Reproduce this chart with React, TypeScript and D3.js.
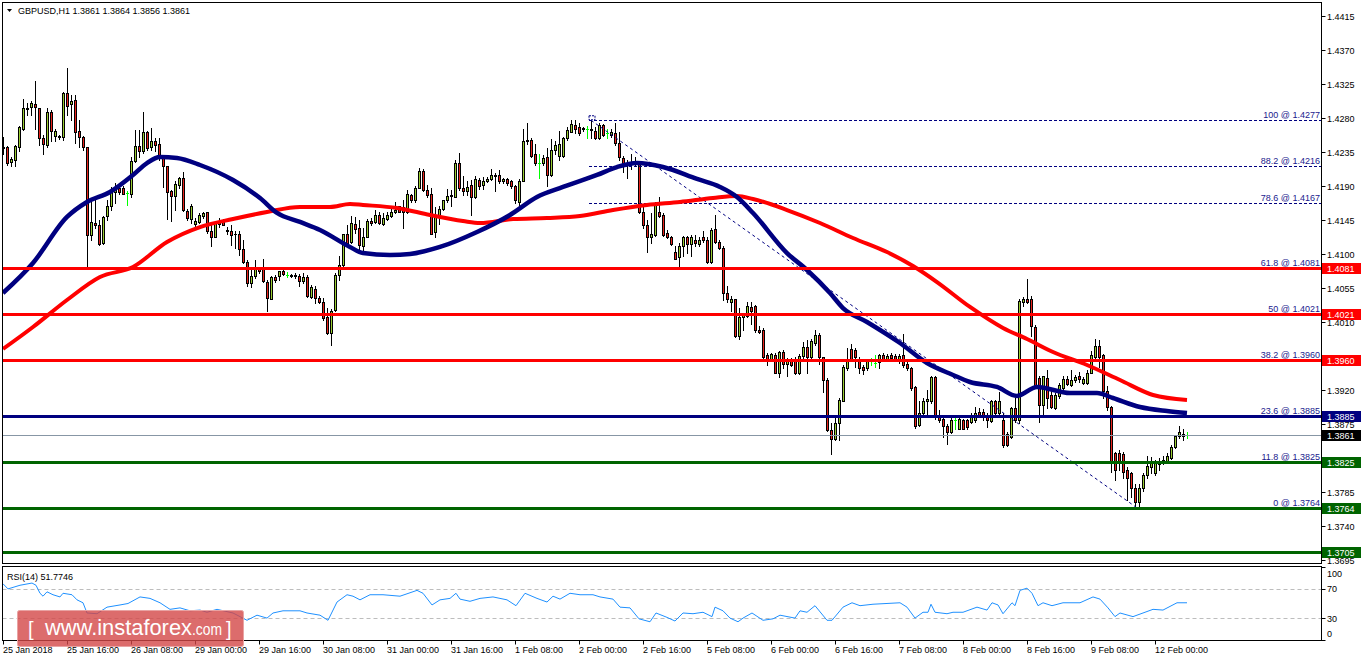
import React from 'react';
import * as d3 from 'd3';

// ---------- DATA (GBPUSD H1, bars 0..296, 25 Jan 2018 00:00 -> 12 Feb 2018 08:00) ----------
const opens = [
  1.4240,1.4241,1.4222,1.4224,1.4241,1.4266,1.4292,1.4294,1.4298,1.4293,
  1.4254,1.4244,1.4288,1.4256,1.4256,1.4255,1.4313,1.4298,1.4304,1.4263,
  1.4255,1.4241,1.4125,1.4141,1.4138,1.4114,1.4150,1.4163,1.4182,1.4188,
  1.4188,1.4181,1.4180,1.4223,1.4243,1.4236,1.4261,1.4241,1.4250,1.4245,
  1.4229,1.4216,1.4183,1.4177,1.4191,1.4200,1.4157,1.4146,1.4140,1.4143,
  1.4150,1.4155,1.4131,1.4123,1.4140,1.4143,1.4132,1.4131,1.4127,1.4127,
  1.4107,1.4090,1.4062,1.4071,1.4080,1.4080,1.4063,1.4041,1.4069,1.4071,
  1.4077,1.4072,1.4072,1.4071,1.4071,1.4064,1.4070,1.4043,1.4054,1.4042,
  1.4037,1.4017,1.3995,1.4026,1.4072,1.4086,1.4127,1.4116,1.4140,1.4135,
  1.4111,1.4123,1.4144,1.4143,1.4152,1.4140,1.4146,1.4150,1.4155,1.4163,
  1.4162,1.4155,1.4178,1.4171,1.4188,1.4210,1.4185,1.4179,1.4129,1.4150,
  1.4159,1.4171,1.4177,1.4176,1.4221,1.4188,1.4184,1.4191,1.4175,1.4198,
  1.4191,1.4196,1.4199,1.4205,1.4205,1.4196,1.4199,1.4197,1.4190,1.4169,
  1.4197,1.4251,1.4251,1.4232,1.4221,1.4220,1.4228,1.4205,1.4237,1.4230,
  1.4230,1.4254,1.4262,1.4271,1.4268,1.4266,1.4266,1.4266,1.4263,1.4253,
  1.4271,1.4260,1.4257,1.4260,1.4247,1.4227,1.4220,1.4222,1.4221,1.4219,
  1.4156,1.4138,1.4122,1.4125,1.4155,1.4152,1.4128,1.4122,1.4103,1.4096,
  1.4110,1.4122,1.4113,1.4119,1.4113,1.4123,1.4118,1.4089,1.4133,1.4116,
  1.4108,1.4049,1.4036,1.4040,1.3991,1.4016,1.4018,1.4030,1.4031,1.3999,
  1.3999,1.3966,1.3960,1.3966,1.3943,1.3970,1.3955,1.3960,1.3960,1.3942,
  1.3965,1.3977,1.3964,1.3982,1.3993,1.3964,1.3933,1.3867,1.3855,1.3876,
  1.3906,1.3949,1.3974,1.3973,1.3960,1.3951,1.3949,1.3958,1.3956,1.3957,
  1.3966,1.3960,1.3966,1.3965,1.3958,1.3966,1.3955,1.3949,1.3924,1.3874,
  1.3889,1.3905,1.3905,1.3937,1.3886,1.3881,1.3872,1.3865,1.3880,1.3869,
  1.3880,1.3880,1.3878,1.3880,1.3891,1.3891,1.3887,1.3879,1.3905,1.3889,
  1.3880,1.3862,1.3858,1.3896,1.3880,1.4036,1.4041,1.4041,1.4004,1.3936,
  1.3900,1.3936,1.3914,1.3896,1.3912,1.3922,1.3934,1.3927,1.3933,1.3938,
  1.3929,1.3929,1.3943,1.3964,1.3978,1.3966,1.3919,1.3897,1.3837,1.3837,
  1.3835,1.3814,1.3810,1.3790,1.3772,1.3790,1.3808,1.3818,1.3810,1.3822,
  1.3823,1.3825,1.3830,1.3845,1.3859,1.3862,1.3861,
];
const highs = [
  1.4255,1.4243,1.4229,1.4244,1.4270,1.4305,1.4300,1.4303,1.4329,1.4293,
  1.4258,1.4293,1.4291,1.4265,1.4258,1.4315,1.4346,1.4311,1.4311,1.4277,
  1.4256,1.4242,1.4172,1.4172,1.4145,1.4150,1.4172,1.4189,1.4194,1.4191,
  1.4190,1.4183,1.4229,1.4264,1.4264,1.4288,1.4263,1.4267,1.4253,1.4254,
  1.4231,1.4216,1.4185,1.4196,1.4202,1.4208,1.4160,1.4166,1.4147,1.4154,
  1.4156,1.4156,1.4141,1.4143,1.4147,1.4146,1.4136,1.4138,1.4130,1.4130,
  1.4119,1.4092,1.4083,1.4092,1.4083,1.4093,1.4066,1.4071,1.4072,1.4078,
  1.4079,1.4076,1.4074,1.4075,1.4074,1.4075,1.4072,1.4059,1.4057,1.4044,
  1.4042,1.4028,1.4027,1.4075,1.4097,1.4127,1.4139,1.4150,1.4149,1.4145,
  1.4134,1.4146,1.4147,1.4158,1.4155,1.4154,1.4155,1.4160,1.4169,1.4164,
  1.4171,1.4185,1.4180,1.4190,1.4214,1.4213,1.4191,1.4187,1.4162,1.4163,
  1.4172,1.4186,1.4185,1.4224,1.4234,1.4203,1.4196,1.4198,1.4203,1.4200,
  1.4202,1.4202,1.4212,1.4207,1.4211,1.4201,1.4201,1.4198,1.4191,1.4199,
  1.4265,1.4274,1.4253,1.4246,1.4232,1.4231,1.4240,1.4252,1.4249,1.4263,
  1.4255,1.4268,1.4278,1.4278,1.4273,1.4268,1.4269,1.4277,1.4268,1.4273,
  1.4272,1.4265,1.4266,1.4273,1.4262,1.4230,1.4225,1.4233,1.4228,1.4222,
  1.4165,1.4145,1.4154,1.4169,1.4176,1.4154,1.4132,1.4124,1.4110,1.4114,
  1.4124,1.4124,1.4125,1.4125,1.4122,1.4130,1.4123,1.4134,1.4152,1.4119,
  1.4110,1.4057,1.4044,1.4041,1.4028,1.4022,1.4036,1.4036,1.4032,1.4005,
  1.4002,1.3969,1.3969,1.3969,1.3971,1.3973,1.3962,1.3962,1.3964,1.3968,
  1.3984,1.3986,1.3987,1.3999,1.3995,1.3964,1.3936,1.3876,1.3887,1.3909,
  1.3953,1.3975,1.3981,1.3975,1.3964,1.3953,1.3960,1.3962,1.3966,1.3968,
  1.3969,1.3968,1.3969,1.3968,1.3968,1.3994,1.3958,1.3951,1.3925,1.3906,
  1.3909,1.3920,1.3938,1.3938,1.3894,1.3885,1.3875,1.3883,1.3883,1.3884,
  1.3882,1.3882,1.3889,1.3898,1.3896,1.3895,1.3890,1.3907,1.3907,1.3918,
  1.3889,1.3864,1.3898,1.3909,1.4041,1.4043,1.4067,1.4044,1.4006,1.3938,
  1.3939,1.3947,1.3920,1.3916,1.3929,1.3938,1.3938,1.3946,1.3940,1.3944,
  1.3937,1.3946,1.3971,1.3987,1.3986,1.3968,1.3925,1.3899,1.3838,1.3840,
  1.3838,1.3818,1.3812,1.3795,1.3795,1.3810,1.3832,1.3831,1.3828,1.3830,
  1.3833,1.3836,1.3847,1.3860,1.3872,1.3869,1.3864,
];
const lows = [
  1.4233,1.4218,1.4216,1.4216,1.4236,1.4264,1.4284,1.4284,1.4266,1.4244,
  1.4233,1.4241,1.4249,1.4249,1.4252,1.4251,1.4284,1.4277,1.4247,1.4241,
  1.4238,1.4083,1.4119,1.4134,1.4112,1.4113,1.4145,1.4158,1.4167,1.4180,
  1.4179,1.4165,1.4176,1.4222,1.4229,1.4234,1.4238,1.4238,1.4236,1.4224,
  1.4189,1.4146,1.4144,1.4158,1.4187,1.4157,1.4145,1.4141,1.4136,1.4141,
  1.4147,1.4128,1.4110,1.4122,1.4136,1.4138,1.4127,1.4112,1.4108,1.4099,
  1.4088,1.4057,1.4056,1.4068,1.4075,1.4063,1.4025,1.4040,1.4063,1.4065,
  1.4072,1.4069,1.4069,1.4068,1.4057,1.4062,1.4043,1.4042,1.4035,1.4035,
  1.4013,1.3994,1.3980,1.4025,1.4066,1.4084,1.4113,1.4114,1.4128,1.4105,
  1.4105,1.4122,1.4139,1.4141,1.4140,1.4139,1.4145,1.4149,1.4154,1.4155,
  1.4134,1.4154,1.4169,1.4169,1.4187,1.4183,1.4176,1.4126,1.4122,1.4140,
  1.4158,1.4169,1.4164,1.4175,1.4185,1.4178,1.4178,1.4152,1.4174,1.4186,
  1.4186,1.4195,1.4198,1.4184,1.4194,1.4194,1.4191,1.4188,1.4167,1.4160,
  1.4196,1.4246,1.4229,1.4218,1.4201,1.4218,1.4190,1.4203,1.4233,1.4224,
  1.4229,1.4251,1.4261,1.4260,1.4257,1.4263,1.4254,1.4254,1.4252,1.4252,
  1.4256,1.4254,1.4255,1.4244,1.4224,1.4208,1.4201,1.4213,1.4216,1.4154,
  1.4134,1.4102,1.4114,1.4124,1.4149,1.4124,1.4121,1.4112,1.4093,1.4083,
  1.4097,1.4101,1.4097,1.4110,1.4110,1.4116,1.4088,1.4088,1.4114,1.4106,
  1.4039,1.4037,1.4024,1.3990,1.3987,1.3999,1.4016,1.4008,1.3997,1.3995,
  1.3963,1.3953,1.3958,1.3942,1.3937,1.3949,1.3939,1.3952,1.3941,1.3941,
  1.3963,1.3942,1.3962,1.3980,1.3955,1.3918,1.3866,1.3835,1.3854,1.3854,
  1.3905,1.3946,1.3958,1.3951,1.3942,1.3941,1.3946,1.3953,1.3951,1.3949,
  1.3958,1.3959,1.3960,1.3958,1.3956,1.3951,1.3946,1.3920,1.3870,1.3873,
  1.3887,1.3887,1.3903,1.3881,1.3878,1.3858,1.3849,1.3863,1.3869,1.3868,
  1.3868,1.3869,1.3876,1.3878,1.3885,1.3880,1.3871,1.3877,1.3887,1.3887,
  1.3845,1.3846,1.3856,1.3878,1.3876,1.4031,1.4035,1.3991,1.3923,1.3878,
  1.3884,1.3896,1.3896,1.3895,1.3909,1.3921,1.3927,1.3925,1.3931,1.3931,
  1.3928,1.3928,1.3942,1.3962,1.3951,1.3909,1.3894,1.3812,1.3801,1.3814,
  1.3803,1.3774,1.3778,1.3764,1.3764,1.3786,1.3803,1.3810,1.3808,1.3814,
  1.3822,1.3824,1.3829,1.3843,1.3857,1.3854,1.3856,
];
const closes = [
  1.4241,1.4220,1.4226,1.4243,1.4268,1.4293,1.4293,1.4300,1.4294,1.4254,
  1.4245,1.4288,1.4263,1.4263,1.4255,1.4313,1.4296,1.4303,1.4262,1.4255,
  1.4241,1.4125,1.4142,1.4138,1.4113,1.4149,1.4164,1.4183,1.4187,1.4182,
  1.4180,1.4181,1.4223,1.4243,1.4236,1.4262,1.4240,1.4249,1.4244,1.4229,
  1.4216,1.4182,1.4177,1.4192,1.4200,1.4158,1.4147,1.4164,1.4144,1.4152,
  1.4154,1.4131,1.4123,1.4142,1.4142,1.4139,1.4130,1.4125,1.4126,1.4106,
  1.4089,1.4061,1.4071,1.4080,1.4078,1.4064,1.4042,1.4069,1.4066,1.4077,
  1.4074,1.4072,1.4071,1.4072,1.4064,1.4070,1.4044,1.4056,1.4042,1.4037,
  1.4015,1.3995,1.4024,1.4072,1.4086,1.4126,1.4115,1.4141,1.4133,1.4112,
  1.4123,1.4144,1.4141,1.4152,1.4141,1.4147,1.4152,1.4155,1.4158,1.4156,
  1.4155,1.4179,1.4171,1.4188,1.4210,1.4185,1.4178,1.4127,1.4150,1.4160,
  1.4171,1.4177,1.4178,1.4220,1.4188,1.4184,1.4189,1.4176,1.4199,1.4190,
  1.4197,1.4199,1.4204,1.4203,1.4196,1.4199,1.4194,1.4190,1.4171,1.4197,
  1.4250,1.4249,1.4230,1.4220,1.4221,1.4227,1.4205,1.4238,1.4244,1.4246,
  1.4254,1.4264,1.4272,1.4265,1.4260,1.4267,1.4266,1.4264,1.4254,1.4271,
  1.4258,1.4260,1.4262,1.4247,1.4228,1.4220,1.4221,1.4219,1.4220,1.4156,
  1.4138,1.4123,1.4127,1.4168,1.4150,1.4125,1.4122,1.4113,1.4094,1.4111,
  1.4123,1.4113,1.4122,1.4114,1.4118,1.4118,1.4090,1.4132,1.4116,1.4108,
  1.4048,1.4041,1.4041,1.3991,1.4017,1.4019,1.4031,1.4025,1.3999,1.3997,
  1.3964,1.3960,1.3968,1.3943,1.3970,1.3955,1.3960,1.3953,1.3942,1.3965,
  1.3977,1.3964,1.3985,1.3993,1.3964,1.3933,1.3867,1.3855,1.3876,1.3907,
  1.3950,1.3958,1.3960,1.3964,1.3949,1.3947,1.3958,1.3958,1.3956,1.3966,
  1.3960,1.3965,1.3962,1.3960,1.3965,1.3953,1.3949,1.3922,1.3872,1.3890,
  1.3906,1.3908,1.3937,1.3884,1.3880,1.3872,1.3865,1.3880,1.3880,1.3881,
  1.3869,1.3871,1.3886,1.3890,1.3887,1.3885,1.3880,1.3905,1.3889,1.3905,
  1.3847,1.3847,1.3896,1.3880,1.4038,1.4040,1.4037,1.4005,1.3925,1.3900,
  1.3938,1.3909,1.3898,1.3914,1.3927,1.3934,1.3928,1.3933,1.3937,1.3934,
  1.3935,1.3943,1.3966,1.3978,1.3964,1.3919,1.3898,1.3823,1.3814,1.3825,
  1.3812,1.3803,1.3790,1.3772,1.3790,1.3808,1.3820,1.3824,1.3824,1.3824,
  1.3828,1.3832,1.3845,1.3859,1.3864,1.3859,1.3861,
];

// Moving averages (at sample bars)
const maFastBars = [0,7.5,16,21,26.75,32.5,36,39.25,43.5,49.25,57.5,64.25,68.5,74.25,79.25,86.75,90,96.75,101.75,109.25,118.5,126.75,133.5,140,148.5,153.5,158.5,165,173.5,179.25,183.5,187.5,196,201,206.75,210,216,224.25,231,237.5,241.75,248.5,253.5,258.5,266.75,273.5,277.5,284.25,291,296];
const maFastValues = [1.40484,1.40881,1.41490,1.41688,1.41821,1.42046,1.42204,1.42284,1.42271,1.42178,1.41979,1.41741,1.41543,1.41424,1.41318,1.41093,1.41013,1.40987,1.41000,1.41093,1.41291,1.41516,1.41754,1.41887,1.42046,1.42151,1.42204,1.42151,1.41993,1.41887,1.41754,1.41543,1.41013,1.40788,1.40484,1.40285,1.40100,1.39822,1.39557,1.39399,1.39306,1.39240,1.39121,1.39240,1.39160,1.39160,1.39094,1.38975,1.38922,1.38896];
const maSlowBars = [0,7.5,16,24.25,32.5,41,49.25,57.5,66,74.25,81.75,86.75,90,98.5,106.75,115,119.25,127.5,136,144.25,152.5,161,169.25,177.5,183.5,187.5,196,204.25,212.5,221,227.5,233.5,241.75,250,256,262.5,271,279.25,287.5,296];
const maSlowValues = [1.39743,1.40034,1.40391,1.40696,1.40828,1.41159,1.41357,1.41463,1.41556,1.41622,1.41622,1.41662,1.41649,1.41609,1.41516,1.41437,1.41410,1.41463,1.41477,1.41503,1.41582,1.41649,1.41688,1.41741,1.41768,1.41728,1.41582,1.41410,1.41212,1.41026,1.40841,1.40629,1.40299,1.40021,1.39875,1.39703,1.39531,1.39332,1.39134,1.39068];

// RSI(14)
const rsiBars = [0,1.25,4.25,7.25,8.25,9.25,10,11,12.5,14.25,15,17.25,18.5,20,21,23.5,26,29.25,31.25,34.25,36.75,39.25,41.75,44.25,46.75,49.25,51,53.5,57.5,61,63.5,66,67.5,70,74.25,76,79.25,81.25,83.5,86,87.5,89.25,91.75,95,99.25,103.5,105,107.25,109.25,111.75,113.25,114.25,116.75,119.25,122.5,126,128.25,130.5,133.5,136,137.5,139.25,141.75,144.25,147.5,149.25,152.5,154.25,156.75,159,161.75,163.25,166,168,170,172.5,175,177.25,178,180,181.75,183.75,185,187.25,190,192.5,194.25,198,199.25,201,203,206,207.25,210,212.25,214.25,217.5,224.25,226,228,230,231.25,232,233,236,237.5,240,243.5,246,247.25,248.75,250,252.25,253,254.25,256,257.25,258.75,260,262.25,265,269.25,272.5,274.25,276.25,278,279.25,282.5,285,287.5,290,293.5,296];
const rsiValues = [77,70,75,78,75,64,60,66,62,59,64,62,55,51,37,36,45,48,50,59,57,51,42,44,40,41,38,42,37,27,34,30,37,40,40,37,34,27,52,62,60,55,62,62,60,68,64,48,55,57,64,56,53,57,59,55,47,64,57,52,60,56,64,62,62,59,56,45,44,29,25,37,31,26,37,36,38,32,45,40,30,25,30,37,27,29,34,30,40,38,47,27,27,45,51,47,49,51,45,30,38,38,49,38,36,38,38,45,41,51,48,36,51,47,68,71,64,47,51,47,51,51,59,56,44,32,37,32,37,42,41,51,51];
const rsiLevels = [70, 30];
const rsiAxisLabels = ['100', '70', '30', '0'];

// Horizontal support / resistance levels
const levelPrices = [1.4081, 1.4021, 1.3960, 1.3885, 1.3825, 1.3764, 1.3705];
const levelKinds = ['res', 'res', 'res', 'pivot', 'sup', 'sup', 'sup'];
const currentPrice = 1.3861;

// Fibonacci retracement (anchored at bar 147 high -> bar 283.5 low)
const fibRatios = ['100', '88.2', '78.6', '61.8', '50', '38.2', '23.6', '11.8', '0'];
const fibPrices = [1.4277, 1.4216, 1.4167, 1.4081, 1.4021, 1.3960, 1.3885, 1.3825, 1.3764];
const fibAnchorBars = [147, 283.5];

// Axes
const priceTicks = [1.4415, 1.4370, 1.4325, 1.4280, 1.4235, 1.4190, 1.4145, 1.4100, 1.4055, 1.4010, 1.3965, 1.3920, 1.3875, 1.3830, 1.3785, 1.3740, 1.3695];
const dateTickBars = [0, 16, 32, 48, 64, 80, 96, 112, 128, 144, 160, 176, 192, 208, 224, 240, 256, 272, 288];
const dateTickLabels = ['25 Jan 2018', '25 Jan 16:00', '26 Jan 08:00', '29 Jan 00:00', '29 Jan 16:00', '30 Jan 08:00', '31 Jan 00:00', '31 Jan 16:00', '1 Feb 08:00', '2 Feb 00:00', '2 Feb 16:00', '5 Feb 08:00', '6 Feb 00:00', '6 Feb 16:00', '7 Feb 08:00', '8 Feb 00:00', '8 Feb 16:00', '9 Feb 08:00', '12 Feb 00:00'];

const headerText = 'GBPUSD,H1  1.3861 1.3864 1.3856 1.3861';
const rsiHeader = 'RSI(14) 51.7746';

// ---------- CHART ----------
const W = 1362;
const H = 661;
const FONT = "'Liberation Sans', Arial, sans-serif";
const PL = 2.5, PR = 1321.5, MT = 2.5, MB = 563.5, RT = 566.5, RB = 640.5;

const BULL = '#9acd32';
const BEAR = '#e8231c';
const DOJI = '#00ff00';
const kindColor: Record<string, string> = { res: '#ff0000', pivot: '#000080', sup: '#006400' };

export default function App() {
  const x = d3.scaleLinear().domain([0, 296]).range([3, 1187]);
  const y = d3.scaleLinear().domain([1.3695, 1.4415]).range([560, 16]);
  const yr = d3.scaleLinear().domain([0, 100]).range([640, 567]);

  const maLine = d3.line<[number, number]>().x(d => x(d[0])).y(d => y(d[1])).curve(d3.curveMonotoneX);
  const rsiLine = d3.line<[number, number]>().x(d => x(d[0])).y(d => yr(d[1]));

  const fastPts = maFastBars.map((b, i) => [b, maFastValues[i]] as [number, number]);
  const slowPts = maSlowBars.map((b, i) => [b, maSlowValues[i]] as [number, number]);
  const rsiPts = rsiBars.map((b, i) => [b, rsiValues[i]] as [number, number]);

  const candles = opens.map((o, i) => {
    const h = highs[i], l = lows[i], c = closes[i];
    const px = Math.round(x(i));
    const yh = Math.round(y(h));
    const yl = Math.round(y(l));
    if (o === c) {
      const yo = Math.round(y(o));
      return (
        <g key={i}>
          <rect x={px} y={yh} width={1} height={Math.max(1, yl - yh + 1)} fill={DOJI} />
          <rect x={px - 1} y={yo} width={3} height={1} fill={DOJI} />
        </g>
      );
    }
    const top = Math.round(y(Math.max(o, c)));
    const bot = Math.round(y(Math.min(o, c)));
    const bh = Math.max(1, bot - top + 1);
    return (
      <g key={i}>
        <rect x={px} y={yh} width={1} height={Math.max(1, yl - yh + 1)} fill="#000" />
        <rect x={px - 1} y={top} width={3} height={bh} fill="#000" />
        {bh > 2 && <rect x={px} y={top + 1} width={1} height={bh - 2} fill={c > o ? BULL : BEAR} />}
      </g>
    );
  });

  const fibX0 = x(fibAnchorBars[0]) - 2;
  const boxYs = [...levelPrices, currentPrice].map(p => y(p));
  const visibleTicks = priceTicks.filter(p => boxYs.every(by => Math.abs(by - y(p)) > 7));

  return (
    <svg width={W} height={H} style={{ position: 'absolute', left: 0, top: 0, background: '#fff' }} fontFamily={FONT}>
      <defs>
        <clipPath id="mainClip"><rect x={PL} y={MT} width={PR - PL} height={MB - MT} /></clipPath>
        <clipPath id="rsiClip"><rect x={PL} y={RT} width={PR - PL} height={RB - RT} /></clipPath>
      </defs>
      <rect x={0} y={0} width={W} height={H} fill="#fff" />

      {/* main panel */}
      <g clipPath="url(#mainClip)">
        {candles}
        {fibPrices.map((p, i) => (
          <line key={'fl' + i} x1={fibX0} x2={PR} y1={Math.round(y(p)) + 0.5} y2={Math.round(y(p)) + 0.5}
            stroke="#000080" strokeWidth={1} strokeDasharray="3,2" />
        ))}
        <line x1={x(fibAnchorBars[0])} y1={y(fibPrices[0])} x2={x(fibAnchorBars[1])} y2={y(fibPrices[fibPrices.length - 1])}
          stroke="#000080" strokeWidth={1} strokeDasharray="3,3" />
        <rect x={fibX0} y={y(fibPrices[0]) - 4.5} width={6} height={4} fill="none" stroke="#000080" strokeWidth={1} strokeDasharray="2,1" />
        <path d={maLine(slowPts) || ''} fill="none" stroke="#ff0000" strokeWidth={4} />
        <path d={maLine(fastPts) || ''} fill="none" stroke="#000080" strokeWidth={4.5} />
        <line x1={PL} x2={PR} y1={Math.round(y(currentPrice)) + 0.5} y2={Math.round(y(currentPrice)) + 0.5} stroke="#8796a5" strokeWidth={1} />
        {levelPrices.map((p, i) => (
          <rect key={'lv' + i} x={PL} width={PR - PL} y={Math.round(y(p)) - 1} height={3} fill={kindColor[levelKinds[i]]} />
        ))}
        {fibPrices.map((p, i) => (
          <text key={'ft' + i} x={1320} y={Math.round(y(p)) - 2} textAnchor="end" fontSize={9} fill="#1a1a8e">
            {fibRatios[i]} @ {p.toFixed(4)}
          </text>
        ))}
      </g>

      {/* rsi panel */}
      <g clipPath="url(#rsiClip)">
        {rsiLevels.map((v, i) => (
          <line key={'rl' + i} x1={PL} x2={PR} y1={Math.round(yr(v)) + 0.5} y2={Math.round(yr(v)) + 0.5}
            stroke="#bdbdbd" strokeWidth={1} strokeDasharray="4,3" />
        ))}
        <path d={rsiLine(rsiPts) || ''} fill="none" stroke="#1e90ff" strokeWidth={1} />
      </g>

      {/* panel frames */}
      <rect x={PL} y={MT} width={PR - PL} height={MB - MT} fill="none" stroke="#000" strokeWidth={1} />
      <rect x={PL} y={RT} width={PR - PL} height={RB - RT} fill="none" stroke="#000" strokeWidth={1} />

      {/* header */}
      <path d="M7,9 L12,9 L9.5,12 Z" fill="#000" />
      <text x={18} y={14} fontSize={9} fill="#000">{headerText}</text>
      <text x={7} y={580} fontSize={9} fill="#000">{rsiHeader}</text>

      {/* price axis */}
      {priceTicks.map((p, i) => {
        const ty = Math.round(y(p)) + 0.5;
        return <line key={'ptl' + i} x1={PR} x2={PR + 4} y1={ty} y2={ty} stroke="#000" />;
      })}
      {visibleTicks.map((p, i) => {
        const ty = Math.round(y(p)) + 0.5;
        return <text key={'pt' + i} x={1327} y={ty + 3} fontSize={9} fill="#000">{p.toFixed(4)}</text>;
      })}
      {levelPrices.map((p, i) => {
        const ly = Math.round(y(p)) + 0.5;
        return (
          <g key={'pb' + i}>
            <rect x={1322} y={ly - 5.5} width={39} height={11} fill={kindColor[levelKinds[i]]} />
            <text x={1327} y={ly + 3.5} fontSize={9} fill="#fff">{p.toFixed(4)}</text>
          </g>
        );
      })}
      {(() => {
        const ly = Math.round(y(currentPrice)) + 0.5;
        return (
          <g>
            <rect x={1322} y={ly - 5.5} width={39} height={11} fill="#000" />
            <text x={1327} y={ly + 3.5} fontSize={9} fill="#fff">{currentPrice.toFixed(4)}</text>
          </g>
        );
      })()}

      {/* rsi axis */}
      {rsiAxisLabels.map((t, i) => {
        const v = +t;
        const cy = Math.min(633.5, Math.max(573.5, yr(v)));
        return (
          <g key={'ra' + i}>
            <line x1={PR} x2={PR + 4} y1={Math.round(yr(v)) + 0.5} y2={Math.round(yr(v)) + 0.5} stroke="#000" />
            <text x={1327} y={cy + 3.5} fontSize={9} fill="#000">{t}</text>
          </g>
        );
      })}

      {/* time axis */}
      {dateTickBars.map((b, i) => {
        const tx = Math.round(x(b)) + 0.5;
        return (
          <g key={'dt' + i}>
            <line x1={tx} x2={tx} y1={RB} y2={RB + 4} stroke="#000" />
            <text x={tx - 0.5} y={653} fontSize={9} fill="#000">{dateTickLabels[i]}</text>
          </g>
        );
      })}

      {/* watermark */}
      <g>
        <rect x={17.5} y={610.5} width={226} height={36} rx={2} fill="#d34747" fillOpacity={0.8} stroke="#e9a3a3" strokeWidth={1} />
        <text x={28} y={636} fontSize={20} fill="#fff">[</text>
        <text x={45} y={635} fontSize={22} fill="#fff" textLength={147} lengthAdjust="spacingAndGlyphs">www.instaforex</text>
        <text x={192} y={635} fontSize={16} fill="#fff" textLength={30} lengthAdjust="spacingAndGlyphs">.com</text>
        <text x={226} y={636} fontSize={20} fill="#fff">]</text>
      </g>
    </svg>
  );
}
